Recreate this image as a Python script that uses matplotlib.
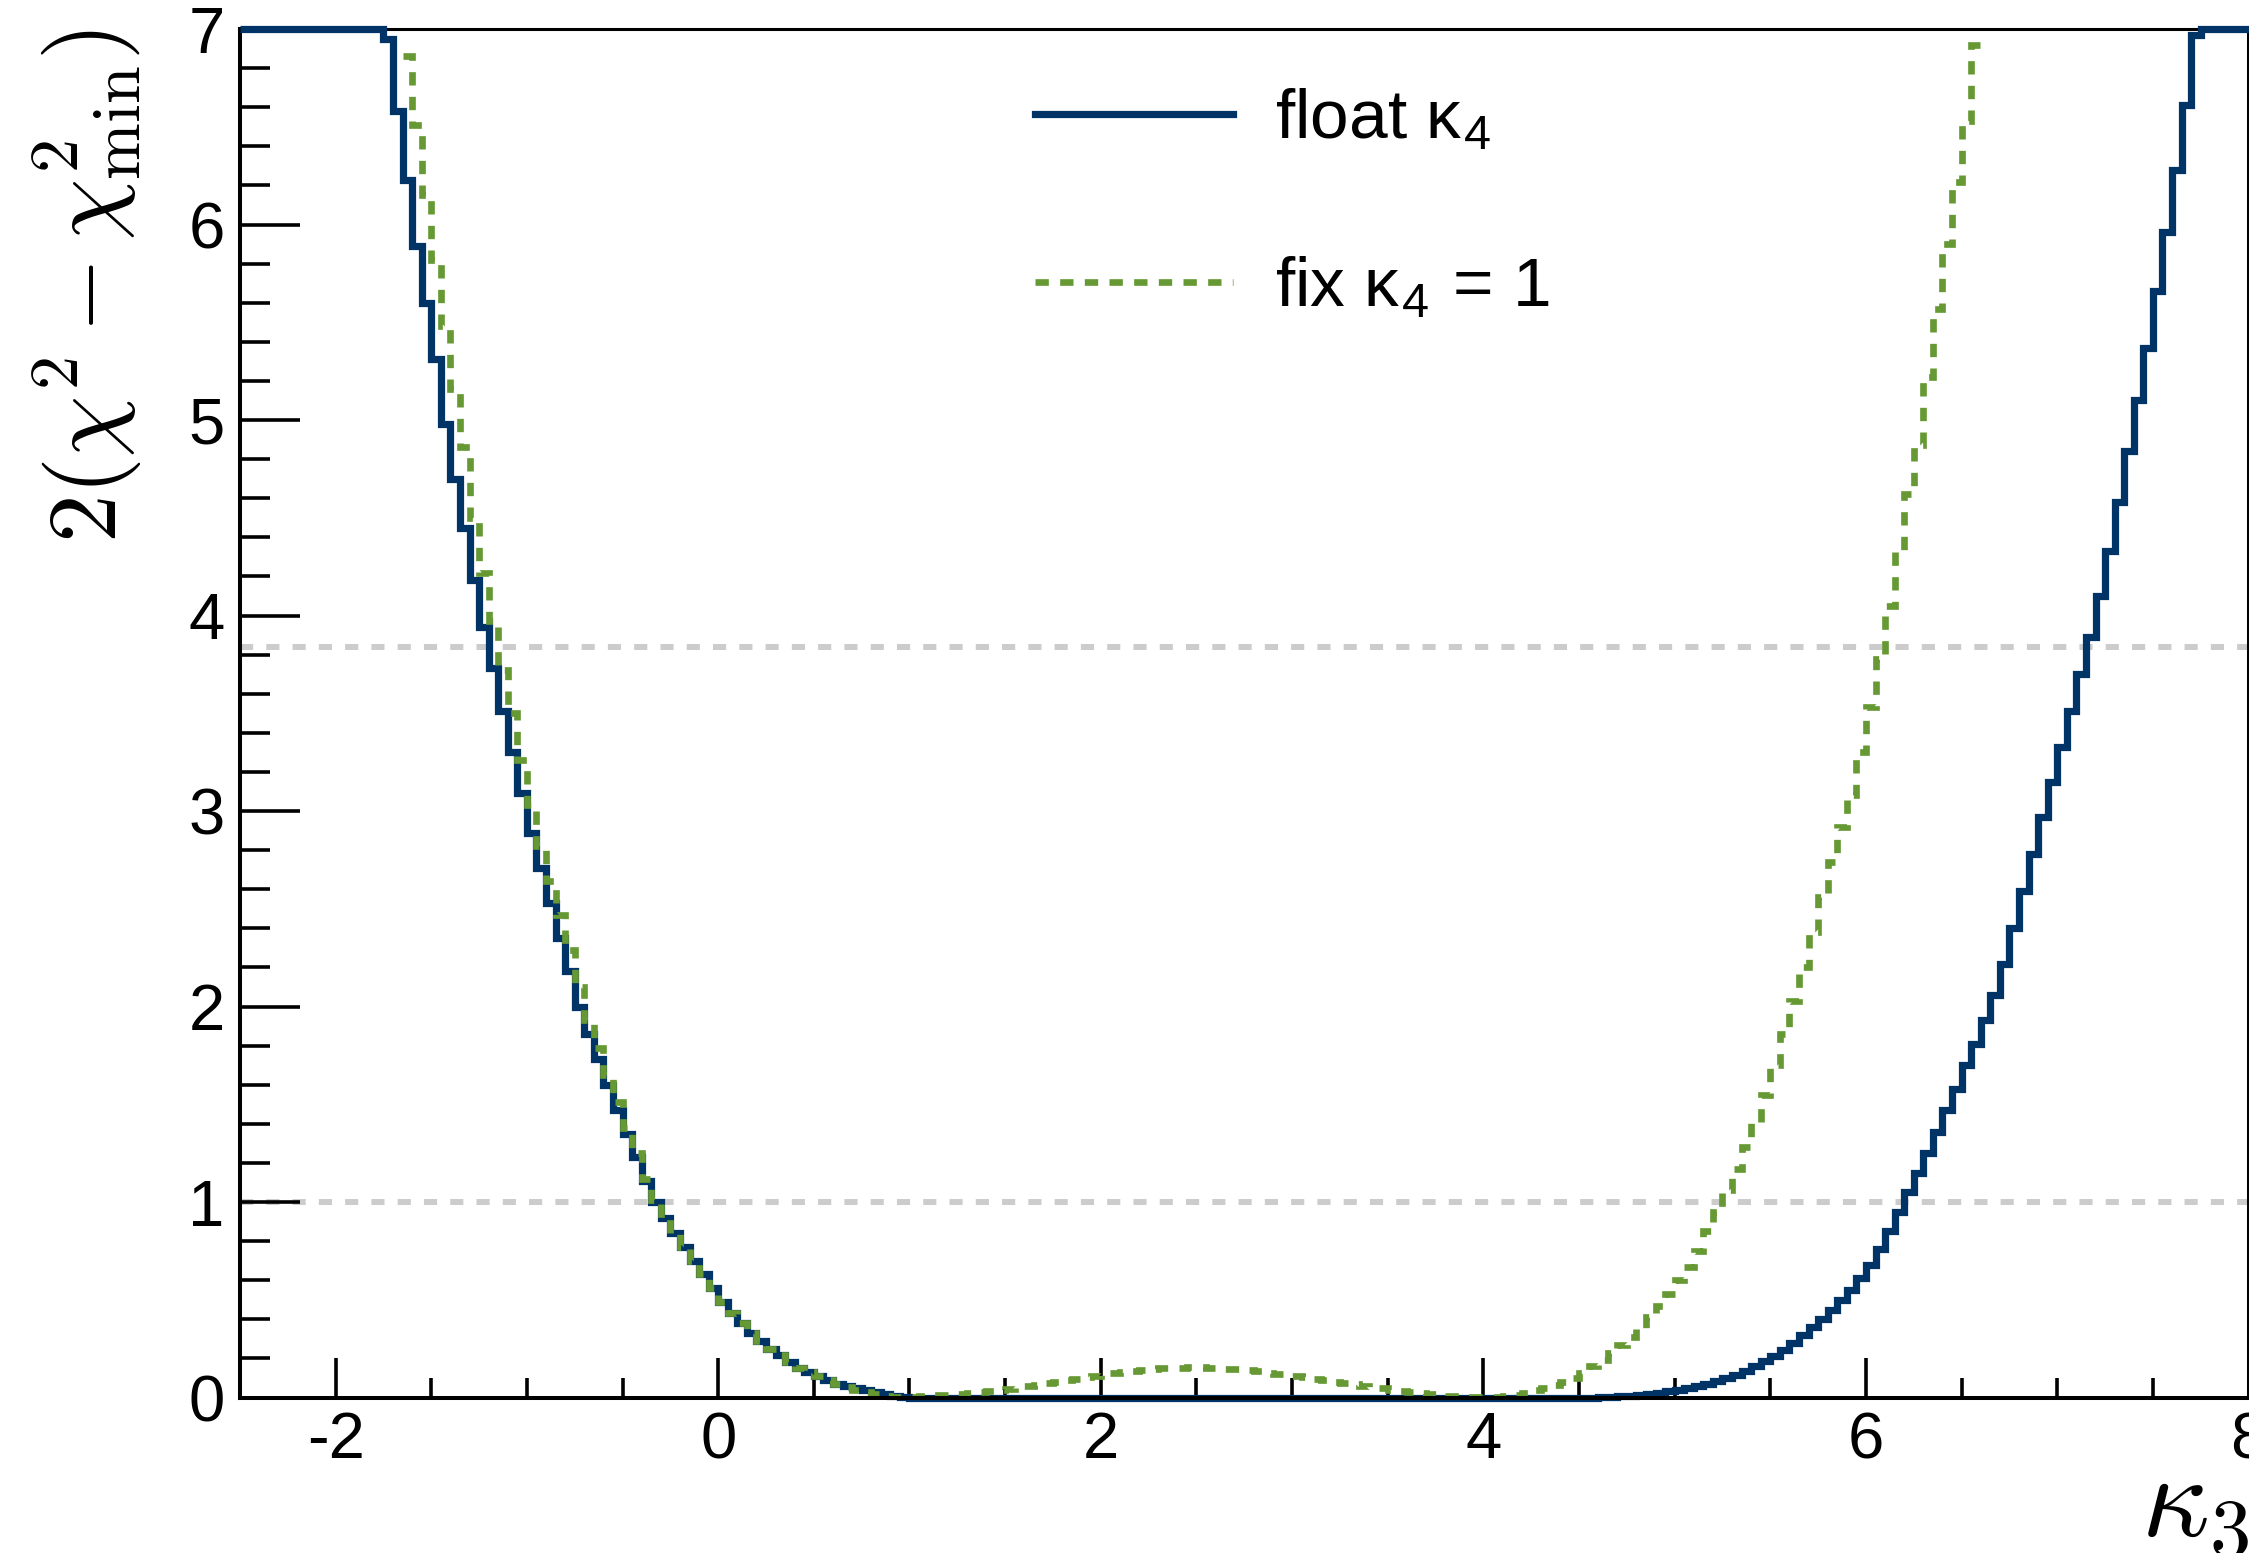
import numpy as np
import matplotlib
matplotlib.use("Agg")
import matplotlib.pyplot as plt
from matplotlib.ticker import MultipleLocator

plt.rcParams['font.family'] = ['Liberation Sans', 'DejaVu Sans']
plt.rcParams['mathtext.fontset'] = 'cm'
plt.rcParams['axes.unicode_minus'] = False

# histogram binning of kappa_3 (bin width 0.05 from -2.5 to 8)
x_lo, x_hi, n_bins = -2.5, 8.0, 210

# 2(chi2 - chi2_min), kappa_4 floating (values above 7 shown at the frame top)
float_k4 = [
    7.0, 7.0, 7.0, 7.0, 7.0, 7.0, 7.0, 7.0, 7.0, 7.0, 7.0, 7.0,
    7.0, 7.0, 7.0, 6.95, 6.58, 6.23, 5.89, 5.60, 5.31, 4.98, 4.70, 4.45,
    4.18, 3.94, 3.73, 3.51, 3.30, 3.09, 2.89, 2.71, 2.53, 2.35, 2.18, 2.00,
    1.86, 1.73, 1.60, 1.47, 1.35, 1.23, 1.11, 1.00, 0.92, 0.84, 0.77, 0.70,
    0.63, 0.56, 0.49, 0.43, 0.38, 0.33, 0.29, 0.25, 0.22, 0.18, 0.15, 0.13,
    0.11, 0.09, 0.07, 0.06, 0.05, 0.04, 0.03, 0.02, 0.01, 0.005, 0.0, 0.0,
    0.0, 0.0, 0.0, 0.0, 0.0, 0.0, 0.0, 0.0, 0.0, 0.0, 0.0, 0.0,
    0.0, 0.0, 0.0, 0.0, 0.0, 0.0, 0.0, 0.0, 0.0, 0.0, 0.0, 0.0,
    0.0, 0.0, 0.0, 0.0, 0.0, 0.0, 0.0, 0.0, 0.0, 0.0, 0.0, 0.0,
    0.0, 0.0, 0.0, 0.0, 0.0, 0.0, 0.0, 0.0, 0.0, 0.0, 0.0, 0.0,
    0.0, 0.0, 0.0, 0.0, 0.0, 0.0, 0.0, 0.0, 0.0, 0.0, 0.0, 0.0,
    0.0, 0.0, 0.0, 0.0, 0.0, 0.0, 0.0, 0.0,
    0.0, 0.0, 0.002, 0.004, 0.006, 0.009, 0.013, 0.018, 0.024, 0.031, 0.039, 0.048,
    0.058, 0.07, 0.083, 0.098, 0.115, 0.135, 0.16, 0.185, 0.215, 0.245, 0.28, 0.32,
    0.36, 0.40, 0.45, 0.50, 0.55, 0.61, 0.68, 0.76, 0.85, 0.95, 1.05, 1.15,
    1.25, 1.36, 1.47, 1.58, 1.70, 1.81, 1.93, 2.06, 2.22, 2.40, 2.59, 2.78,
    2.97, 3.15, 3.33, 3.51, 3.70, 3.89, 4.10, 4.33, 4.58, 4.84, 5.10, 5.37,
    5.66, 5.96, 6.28, 6.61, 6.97, 7.0, 7.0, 7.0, 7.0, 7.0,
]

# 2(chi2 - chi2_min), kappa_4 fixed to 1 (nan = above the plotted range)
nan = np.nan
fix_k4 = [
    nan, nan, nan, nan, nan, nan, nan, nan, nan, nan, nan, nan,
    nan, nan, nan, nan, nan, 6.86, 6.51, 6.15, 5.82, 5.48, 5.16, 4.86,
    4.50, 4.22, 3.97, 3.72, 3.50, 3.26, 3.03, 2.82, 2.64, 2.47, 2.29, 2.10,
    1.93, 1.79, 1.65, 1.51, 1.38, 1.25, 1.12, 1.01, 0.92, 0.84, 0.77, 0.70,
    0.63, 0.56, 0.49, 0.43, 0.38, 0.33, 0.29, 0.25, 0.22, 0.18, 0.15, 0.13,
    0.11, 0.09, 0.07, 0.055, 0.04, 0.03, 0.02, 0.01, 0.005, 0.002, 0.005, 0.008,
    0.011, 0.014, 0.017, 0.02, 0.024, 0.028, 0.034, 0.04, 0.046, 0.052, 0.058, 0.065,
    0.072, 0.08, 0.088, 0.096, 0.103, 0.11, 0.117, 0.123, 0.129, 0.135, 0.14, 0.145,
    0.149, 0.151, 0.153, 0.154, 0.154, 0.153, 0.151, 0.148, 0.144, 0.139, 0.134, 0.128,
    0.122, 0.116, 0.11, 0.103, 0.096, 0.089, 0.082, 0.075, 0.068, 0.061, 0.054, 0.047,
    0.040, 0.034, 0.028, 0.022, 0.016, 0.011, 0.007, 0.004, 0.002, 0.001, 0.001, 0.003,
    0.008, 0.015, 0.025, 0.037, 0.05, 0.065, 0.082, 0.10, 0.125, 0.16, 0.19, 0.23,
    0.27, 0.31, 0.35, 0.41, 0.47, 0.53, 0.60, 0.67, 0.75, 0.85, 0.95, 1.06,
    1.17, 1.28, 1.41, 1.55, 1.70, 1.86, 2.03, 2.20, 2.38, 2.56, 2.74, 2.92,
    3.08, 3.30, 3.53, 3.78, 4.05, 4.33, 4.62, 4.87, 5.22, 5.57, 5.90, 6.22,
    6.53, 6.92, nan, nan, nan, nan, nan, nan, nan, nan, nan, nan,
    nan, nan, nan, nan, nan, nan, nan, nan, nan, nan, nan, nan,
    nan, nan, nan, nan, nan, nan,
]

# reference levels (68% and 95% CL)
cl_levels = [1.0, 3.84]

labels = ["float κ$_\\mathregular{4}$", "fix κ$_\\mathregular{4}$ = 1"]
x_ticks = [-2, 0, 2, 4, 6, 8]

blue = "#003366"
green = "#669933"
grey = "#cccccc"

edges = np.linspace(x_lo, x_hi, n_bins + 1)

fig = plt.figure(figsize=(22.49, 15.53), dpi=100)
ax = fig.add_axes([0.1067, 0.1001, 0.8931, 0.8812])

for lev in cl_levels:
    ax.axhline(lev, color=grey, lw=4.3, linestyle=(0, (2.2, 2.2)), zorder=1)

ax.stairs(float_k4, edges, baseline=None, color=blue, lw=5.2,
          label=labels[0], zorder=3, clip_on=False)
ax.stairs(fix_k4, edges, baseline=None, color=green, lw=4.8,
          linestyle=(0, (2.0, 1.7)), label=labels[1], zorder=4)

ax.set_xlim(x_lo, x_hi)
ax.set_ylim(0, 7)
ax.set_xticks(x_ticks)
ax.xaxis.set_minor_locator(MultipleLocator(0.5))
ax.yaxis.set_major_locator(MultipleLocator(1))
ax.yaxis.set_minor_locator(MultipleLocator(0.2))

ax.tick_params(axis='both', which='both', direction='in', top=False, right=False,
               width=2.6, labelsize=47)
ax.tick_params(axis='x', which='major', length=28.8, pad=10)
ax.tick_params(axis='x', which='minor', length=14.4)
ax.tick_params(axis='y', which='major', length=43.2, pad=11)
ax.tick_params(axis='y', which='minor', length=21.6)

for side in ['left', 'bottom', 'right']:
    ax.spines[side].set_linewidth(2.9)
ax.spines['top'].set_linewidth(2.2)
ax.spines['bottom'].set_zorder(5)

ax.set_ylabel(r'$2(\chi^{2} - \chi^{2}_{\rm min})$', fontsize=70, loc='top')
ax.yaxis.set_label_coords(-0.048, 1.0)
ax.set_xlabel(r'$\kappa_3$', fontsize=85, loc='right')
ax.xaxis.set_label_coords(1.0, -0.038)

ax.legend(loc='upper left', bbox_to_anchor=(0.396, 0.958), frameon=False,
          fontsize=50, handlelength=2.85, handletextpad=0.6, labelspacing=1.47,
          borderpad=0, borderaxespad=0)

fig.savefig("out.png", dpi=100)
